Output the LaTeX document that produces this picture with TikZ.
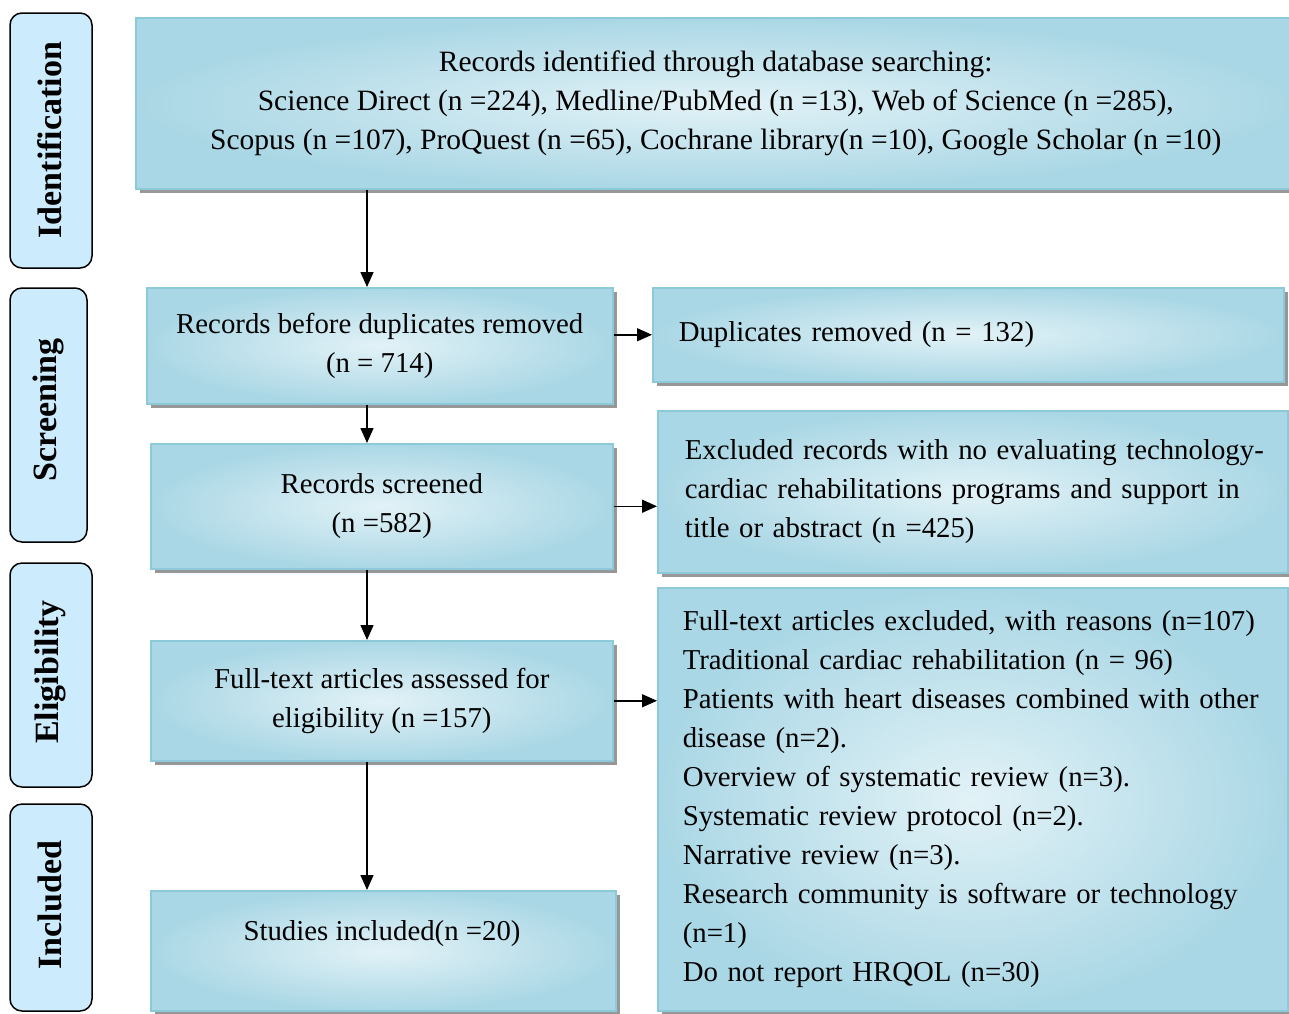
\documentclass[tikz,border=0pt]{standalone}
\usepackage{fontspec}
\setmainfont{Liberation Serif}
\usetikzlibrary{shadows,arrows.meta}
\definecolor{boxedge}{RGB}{140,202,218}
\definecolor{boxin}{RGB}{226,242,247}
\definecolor{boxout}{RGB}{170,215,229}
\definecolor{sidefill}{RGB}{204,235,252}
\tikzset{
  box/.style={draw=boxedge, line width=1.5pt, inner color=boxin, outer color=boxout,
    drop shadow={shadow xshift=4pt, shadow yshift=-4pt, fill=black!45, opacity=0.9},
    font=\fontsize{28.8}{39}\selectfont, inner sep=0pt, anchor=north west},
  leftbox/.style={box, align=left, inner xsep=26pt},
  midbox/.style={box, align=center},
  sidebox/.style={draw=black, line width=1.5pt, fill=sidefill, rounded corners=12pt},
  sidelab/.style={rotate=90, font=\fontsize{34}{40}\selectfont\bfseries, inner sep=0pt},
  arr/.style={line width=1.5pt, -{Triangle[length=15pt,width=13pt]}}
}
\begin{document}
\begin{tikzpicture}[x=1pt,y=-1pt]
\useasboundingbox (0,0) rectangle (1289,1013);
% side labels
\draw[sidebox] (10,13) rectangle (92,268);
\node[sidelab] (lid) at (50,140) {Identification};
\draw[sidebox] (10,288) rectangle (87,542);
\node[sidelab] (lsc) at (48,410) {Screening};
\draw[sidebox] (10,563) rectangle (92,787);
\node[sidelab] (lel) at (50,672) {Eligibility};
\draw[sidebox] (10,804) rectangle (92,1011);
\node[sidelab] (lin) at (50,905) {Included};
% boxes
\node[midbox, minimum width=1160pt, minimum height=171pt, font=\fontsize{29.5}{39}\selectfont] (id) at (135,17)
  {Records identified through database searching:\\
   Science Direct (n =224), Medline/PubMed (n =13), Web of Science (n =285),\\
   Scopus (n =107), ProQuest (n =65), Cochrane library(n =10), Google Scholar (n =10)};
\node[midbox, minimum width=466pt, minimum height=116pt] (rb) at (146,287)
  {Records before duplicates removed\\(n = 714)};
\node[leftbox, text width=579pt, minimum height=94pt] (dup) at (652,287)
  {Duplicates removed (n = 132)};
\node[midbox, minimum width=462pt, minimum height=125pt] (rs) at (150,443)
  {Records screened\\(n =582)};
\node[leftbox, inner xsep=27pt, text width=576pt, minimum height=162pt] (ex) at (657,410)
  {\mbox{Excluded records with no evaluating technology-}\\
   \mbox{cardiac rehabilitations programs and support in}\\
   title or abstract (n =425)};
\node[midbox, minimum width=462pt, minimum height=120pt] (fa) at (150,640)
  {Full-text articles assessed for\\eligibility (n =157)};
\node[leftbox, inner xsep=25pt, text width=580pt, minimum height=423pt] (fe) at (657,587)
  {\mbox{Full-text articles excluded, with reasons (n=107)}\\
   Traditional cardiac rehabilitation (n = 96)\\
   \mbox{Patients with heart diseases combined with other}\\
   disease (n=2).\\
   Overview of systematic review (n=3).\\
   Systematic review protocol (n=2).\\
   Narrative review (n=3).\\
   \mbox{Research community is software or technology}\\
   (n=1)\\
   Do not report HRQOL (n=30)};
\node[box, minimum width=465pt, minimum height=120pt] (si) at (150,890) {};
\node[font=\fontsize{28.8}{39}\selectfont, inner sep=0pt] (sit) at (382,934) {Studies included(n =20)};
% arrows
\coordinate (ax) at (367,0);
\draw[arr] (id.south -| ax) -- (rb.north -| ax);
\draw[arr] (rb.south -| ax) -- (rs.north -| ax);
\draw[arr] (rs.south -| ax) -- (fa.north -| ax);
\draw[arr] (fa.south -| ax) -- (si.north -| ax);
\draw[arr] (rb.east |- dup.west) -- (dup.west);
\draw[arr] (rs.east) -- (ex.west |- rs.east);
\draw[arr] (fa.east) -- (fe.west |- fa.east);
\end{tikzpicture}
\end{document}
